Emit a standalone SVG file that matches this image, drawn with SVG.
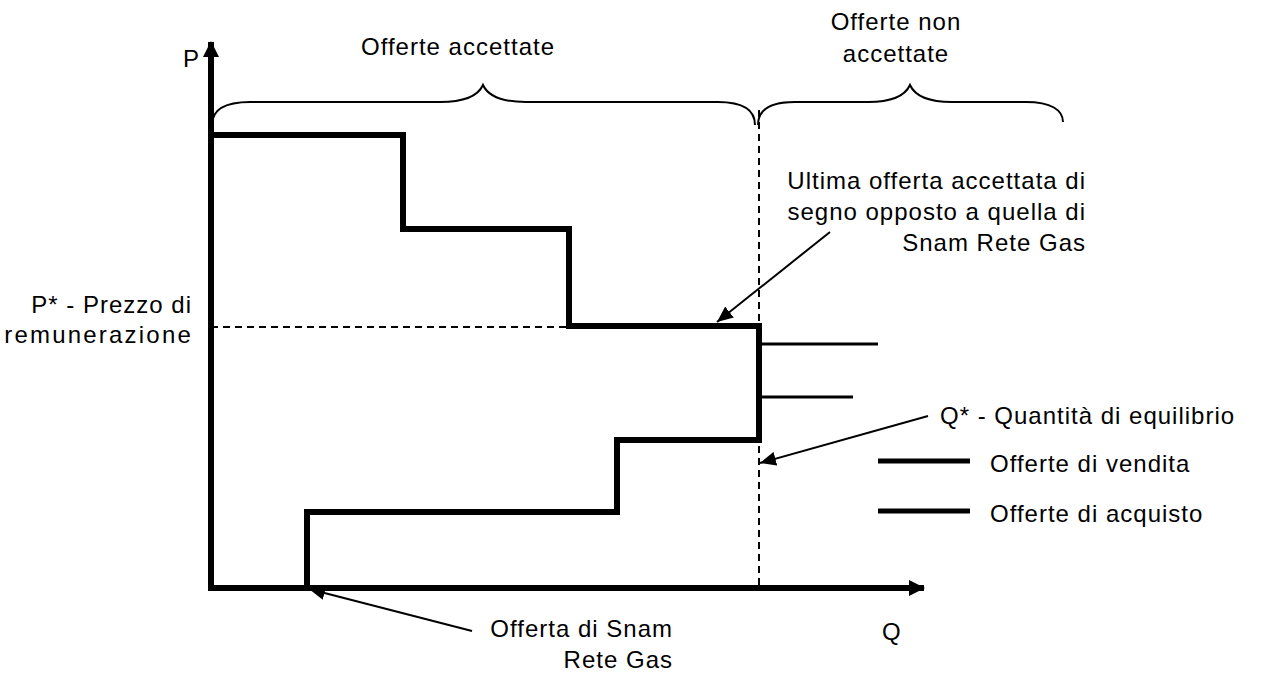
<svg xmlns="http://www.w3.org/2000/svg" width="1261" height="677" viewBox="0 0 1261 677">
<style>
text{font-family:"Liberation Sans",Arial,sans-serif;font-size:24px;fill:#000;letter-spacing:1px}
.wide{letter-spacing:2.2px}
.thick{fill:none;stroke:#000;stroke-width:6;stroke-linejoin:miter;stroke-linecap:square}
.thin{fill:none;stroke:#000;stroke-width:3}
.dash{fill:none;stroke:#000;stroke-width:2;stroke-dasharray:7,5}
.brace{fill:none;stroke:#000;stroke-width:2}
.arr{fill:none;stroke:#000;stroke-width:2}
</style>
<defs>
<marker id="ah" markerUnits="userSpaceOnUse" markerWidth="18" markerHeight="14" refX="16" refY="7" orient="auto">
<path d="M0,0 L16,7 L0,14 z" fill="#000"/>
</marker>
<marker id="axh" markerUnits="userSpaceOnUse" markerWidth="18" markerHeight="18" refX="15" refY="8" orient="auto">
<path d="M0,0 L16,8 L0,16 z" fill="#000"/>
</marker>
</defs>
<rect width="1261" height="677" fill="#fff"/>
<g id="axes">
<line x1="211" y1="590" x2="211" y2="42" stroke="#000" stroke-width="6" marker-end="url(#axh)"/>
<line x1="208" y1="588" x2="924" y2="588" stroke="#000" stroke-width="6" marker-end="url(#axh)"/>
<text x="183" y="67">P</text>
<text x="882" y="640">Q</text>
</g>
<g id="guides">
<line class="dash" x1="211" y1="327" x2="759" y2="327"/>
<line class="dash" x1="759" y1="110" x2="759" y2="588"/>
</g>
<g id="sell-curve">
<path class="thick" d="M211,135 H403 V229 H569 V326 H759 V440"/>
</g>
<g id="buy-curve">
<path class="thick" d="M759,440 H617 V512 H307 V588 H211"/>
</g>
<g id="non-accepted">
<line class="thin" x1="759" y1="344" x2="878" y2="344"/>
<line class="thin" x1="759" y1="397" x2="853" y2="397"/>
</g>
<g id="brace-accepted">
<path class="brace" d="M212,125 C212,110 225,102 250,102 H440 C465,102 478,96 483,85 C488,96 501,102 526,102 H718 C743,102 755,110 755,125"/>
<text x="458" y="55" text-anchor="middle">Offerte accettate</text>
</g>
<g id="brace-not-accepted">
<path class="brace" d="M758,125 C758,110 770,102 795,102 H868 C893,102 905,96 910,85 C915,96 927,102 952,102 H1026 C1051,102 1063,110 1063,122"/>
<text x="896" y="30" text-anchor="middle">Offerte non</text>
<text x="896" y="62" text-anchor="middle">accettate</text>
</g>
<g id="label-pstar">
<text x="192" y="313" text-anchor="end">P* - Prezzo di</text>
<text class="wide" x="193" y="343" text-anchor="end">remunerazione</text>
</g>
<g id="label-ultima">
<text x="1086" y="189" text-anchor="end">Ultima offerta accettata di</text>
<text x="1086" y="220" text-anchor="end">segno opposto a quella di</text>
<text x="1086" y="251" text-anchor="end">Snam Rete Gas</text>
</g>
<g id="label-qstar">
<text x="940" y="424">Q* - Quantità di equilibrio</text>
</g>
<g id="label-snam">
<text x="673" y="637" text-anchor="end">Offerta di Snam</text>
<text x="673" y="668" text-anchor="end">Rete Gas</text>
</g>
<g id="legend">
<line x1="878" y1="461" x2="970" y2="461" stroke="#000" stroke-width="5"/>
<text x="990" y="472">Offerte di vendita</text>
<line x1="878" y1="511" x2="970" y2="511" stroke="#000" stroke-width="5"/>
<text x="990" y="522">Offerte di acquisto</text>
</g>
<g id="connectors">
<line class="arr" x1="830" y1="232" x2="717" y2="322" marker-end="url(#ah)"/>
<line class="arr" x1="928" y1="416" x2="760" y2="463" marker-end="url(#ah)"/>
<line class="arr" x1="472" y1="631" x2="309" y2="589" marker-end="url(#ah)"/>
</g>
</svg>
